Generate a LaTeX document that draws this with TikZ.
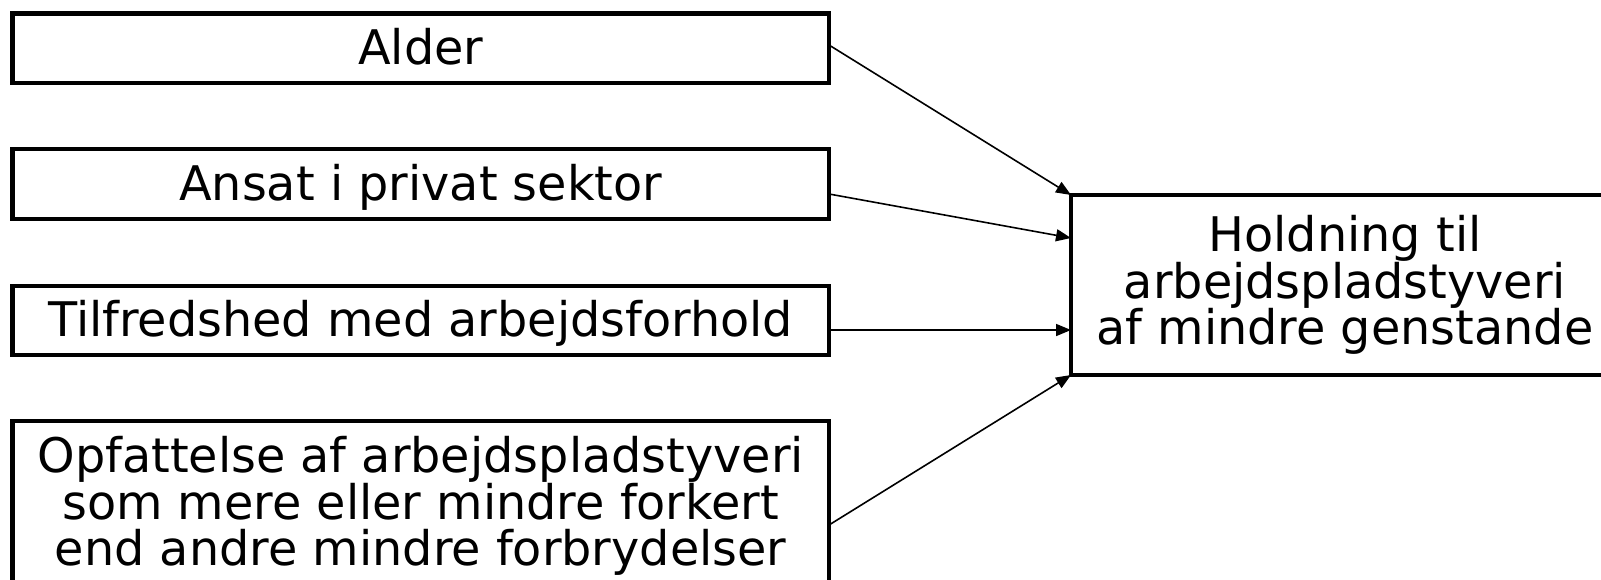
\documentclass[tikz,border=0pt]{standalone}
\usepackage{fontspec}
\setmainfont{DejaVu Sans}
\usetikzlibrary{arrows.meta}
\tikzset{
  boxnode/.style={draw=black, line width=4.2pt, inner sep=0pt, outer sep=0pt,
    font=\fontsize{47.7pt}{46.3pt}\selectfont, align=center},
  oneline/.style={boxnode, minimum width=816.5pt, minimum height=69.5pt,
    text height=40pt, text depth=8pt},
  conn/.style={line width=1.6pt, -{Triangle[length=15pt,width=12pt]}}
}
\begin{document}
\begin{tikzpicture}[x=1pt,y=-1pt]
\clip (0,0) rectangle (1601,579);
\fill[white] (0,0) rectangle (1601,579);
\node[oneline] (a) at (420.75,48.25) {Alder};
\node[oneline] (b) at (420.75,184) {Ansat i privat sektor};
\node[oneline] (c) at (420.75,320.5) {Tilfredshed med arbejdsforhold};
\node[boxnode, minimum width=816.5pt, minimum height=170pt] (d) at (420.75,506)
  {Opfattelse af arbejdspladstyveri\\som mere eller mindre forkert\\end andre mindre forbrydelser};
\node[boxnode, minimum width=548pt, minimum height=180pt] (t) at (1345,285)
  {Holdning til\\arbejdspladstyveri\\af mindre genstande};
\draw[conn] ([yshift=3.25pt]a.east) -- (t.north west);
\draw[conn] ([yshift=-10pt]b.east) -- ([yshift=47pt]t.west);
\draw[conn] ([yshift=-9.5pt]c.east) -- ([yshift=-45pt]t.west);
\draw[conn] ([yshift=-19pt]d.east) -- (t.south west);
\end{tikzpicture}
\end{document}
